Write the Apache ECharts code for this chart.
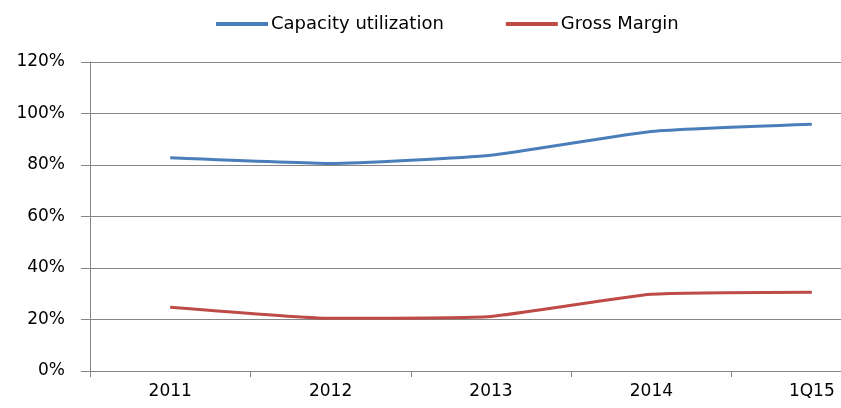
<!DOCTYPE html>
<html>
<head>
<meta charset="utf-8">
<script src="https://cdn.jsdelivr.net/npm/echarts@6/dist/echarts.min.js"></script>
<style>
html,body{margin:0;padding:0;background:#fff;overflow:hidden;width:841px;height:408px;}
#chart{width:900px;height:408px;}
</style>
</head>
<body>
<div id="chart"></div>
<script>
const categories = ['2011', '2012', '2013', '2014', '1Q15'];
const capacityUtilization = [82.8, 80.6, 83.8, 93.0, 95.8];
const grossMargin = [24.8, 20.5, 21.2, 29.8, 30.6];
const yTicks = { min: 0, max: 120, interval: 20 };

const chart = echarts.init(document.getElementById('chart'));
const font = 'DejaVu Sans';
const gray = '#868686';
chart.setOption({
  animation: false,
  backgroundColor: '#fff',
  legend: {
    top: 10,
    left: 211,
    itemWidth: 52,
    itemHeight: 4,
    itemGap: 62,
    icon: 'rect',
    textStyle: { fontFamily: font, fontSize: 18, color: '#000', padding: [0, 0, 0, -2] },
    data: ['Capacity utilization', 'Gross Margin']
  },
  grid: { left: 90, top: 62, width: 802, height: 309, containLabel: false },
  xAxis: {
    type: 'category',
    data: categories,
    boundaryGap: true,
    axisLine: { lineStyle: { color: gray, width: 1 } },
    axisTick: { show: true, length: 6, lineStyle: { color: gray } },
    axisLabel: { fontFamily: font, fontSize: 17, color: '#000', margin: 12 },
    splitLine: { show: false }
  },
  yAxis: {
    type: 'value',
    min: yTicks.min, max: yTicks.max, interval: yTicks.interval,
    axisLine: { show: true, lineStyle: { color: gray, width: 1 } },
    axisTick: { show: true, length: 9, lineStyle: { color: gray } },
    axisLabel: { fontFamily: font, fontSize: 17, color: '#000', margin: 25, formatter: '{value}%' },
    splitLine: { show: true, lineStyle: { color: gray, width: 1 } }
  },
  series: [
    {
      name: 'Capacity utilization', type: 'line', data: capacityUtilization,
      smooth: 0.15, symbol: 'none', color: '#4A7EBB',
      lineStyle: { width: 3, color: '#4A7EBB' }
    },
    {
      name: 'Gross Margin', type: 'line', data: grossMargin,
      smooth: 0.15, symbol: 'none', color: '#BE4B48',
      lineStyle: { width: 3, color: '#BE4B48' }
    }
  ]
});
</script>
</body>
</html>
